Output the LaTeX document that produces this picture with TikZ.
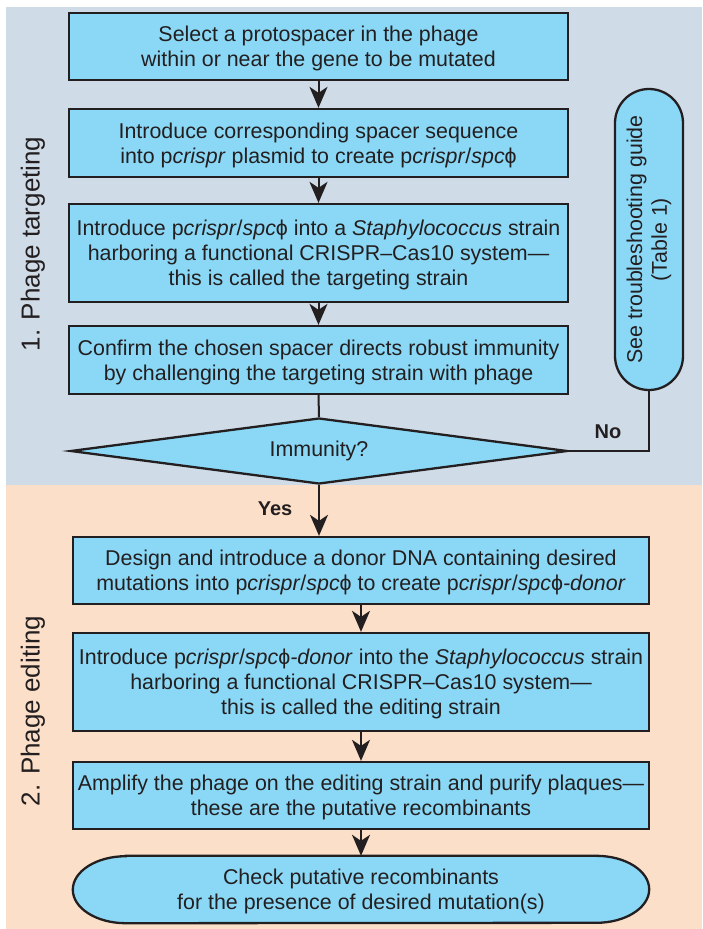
\documentclass[tikz,border=0pt]{standalone}
\usepackage{fontspec}
\setmainfont{Liberation Sans}
\usetikzlibrary{arrows.meta,shapes.geometric}
\definecolor{topbg}{RGB}{207,219,230}
\definecolor{botbg}{RGB}{252,223,200}
\definecolor{boxc}{RGB}{138,216,246}
\definecolor{txt}{RGB}{35,31,32}
\tikzset{
  boxline/.style={draw=txt, line width=2.3pt, fill=boxc},
  boxfont/.style={font={\fontsize{21.4}{24.8}\selectfont}},
  stepbox/.style={boxline, align=center, inner sep=0pt, text=txt, boxfont, text depth=0pt},
  conn/.style={draw=txt, line width=2pt},
  arr/.style={conn, -{Stealth[length=21pt,width=18pt,inset=6pt]}},
  phaselabel/.style={rotate=90, text=txt, font={\fontsize{26}{30}\selectfont}},
  answer/.style={text=txt, font={\fontsize{20}{24}\selectfont\bfseries}},
}
\newcommand{\ph}{ϕ}
\begin{document}
\begin{tikzpicture}[x=1pt,y=-1pt]
\useasboundingbox (0,0) rectangle (702,929);
\fill[topbg] (6,7) rectangle (702,485);
\fill[botbg] (6,485) rectangle (702,929);

\node[phaselabel] (lab1) at (33,244) {1. Phage targeting};
\node[phaselabel] (lab2) at (33,711) {2. Phage editing};

\node[stepbox, minimum width=499pt, minimum height=67pt] (b1) at (318.5,46.5)
  {Select a protospacer in the phage\\within or near the gene to be mutated};
\node[stepbox, minimum width=499pt, minimum height=68pt] (b2) at (318.5,143)
  {Introduce corresponding spacer sequence\\into p\textit{crispr} plasmid to create p\textit{crispr}/\textit{spc}\ph};
\node[stepbox, minimum width=499pt, minimum height=98pt] (b3) at (318.5,253)
  {Introduce p\textit{crispr}/\textit{spc}\ph{} into a \textit{Staphylococcus} strain\\harboring a functional CRISPR–Cas10 system—\\this is called the targeting strain};
\node[stepbox, minimum width=499pt, minimum height=68pt] (b4) at (318.5,360)
  {Confirm the chosen spacer directs robust immunity\\by challenging the targeting strain with phage};
\node[boxline, shape=diamond, aspect=7.5, inner sep=0pt, minimum width=497pt, minimum height=66pt,
  text=txt, boxfont] (dia) at (319,451) {Immunity?};

\node[boxline, rounded corners=34pt, minimum width=68pt, minimum height=301pt, inner sep=0pt] (pill) at (649,239.5) {};
\node[rotate=90, align=center, text=txt, boxfont] (pilltxt) at (pill.center)
  {See troubleshooting guide\\(Table 1)};

\node[stepbox, minimum width=576pt, minimum height=67pt] (b5) at (361,570.5)
  {Design and introduce a donor DNA containing desired\\mutations into p\textit{crispr}/\textit{spc}\ph{} to create p\textit{crispr}/\textit{spc}\ph\textit{-donor}};
\node[stepbox, minimum width=576pt, minimum height=98pt] (b6) at (361,682)
  {Introduce p\textit{crispr}/\textit{spc}\ph\textit{-donor} into the \textit{Staphylococcus} strain\\harboring a functional CRISPR–Cas10 system—\\this is called the editing strain};
\node[stepbox, minimum width=576pt, minimum height=67pt] (b7) at (361,795.5)
  {Amplify the phage on the editing strain and purify plaques—\\these are the putative recombinants};

\node[inner sep=0pt, minimum width=576pt, minimum height=67pt] (term) at (361,889.5) {};
\draw[boxline] ([xshift=53pt]term.north west) -- ([xshift=-53pt]term.north east)
  arc[start angle=90, end angle=-90, x radius=53pt, y radius=33.5pt]
  -- ([xshift=53pt]term.south west)
  arc[start angle=270, end angle=90, x radius=53pt, y radius=33.5pt] -- cycle;
\node[align=center, text=txt, boxfont, text depth=0pt] (termtxt) at (term.center)
  {Check putative recombinants\\for the presence of desired mutation(s)};

\draw[arr] (b1.south) -- (b2.north);
\draw[arr] (b2.south) -- (b3.north);
\draw[arr] (b3.south) -- (b4.north);
\draw[conn] (b4.south) -- (dia.north);
\draw[conn] (dia.east) -| (pill.south);
\node[answer] (no) at (608,432) {No};
\draw[arr] (dia.south) -- (dia.south |- b5.north);
\node[answer] (yes) at (275,509) {Yes};
\draw[arr] (b5.south) -- (b6.north);
\draw[arr] (b6.south) -- (b7.north);
\draw[arr] (b7.south) -- (term.north);
\end{tikzpicture}
\end{document}
